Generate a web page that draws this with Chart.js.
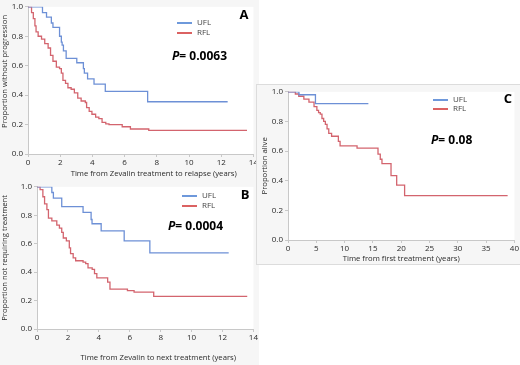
<!DOCTYPE html>
<html>
<head>
<meta charset="utf-8">
<script src="https://cdn.jsdelivr.net/npm/chart.js@4"></script>
<style>
  body { margin: 0; background: #fff; width: 520px; height: 365px; position: relative; overflow: hidden; }
  .panel { position: absolute; background: #f6f6f6; }
  #pa { left: 0; top: 0; width: 259px; height: 180px; }
  #pb { left: 0; top: 180px; width: 259px; height: 185px; }
  #pc { left: 256px; top: 84px; width: 263px; height: 179px; border: 1px solid #dcdcdc; }
</style>
</head>
<body>
<div class="panel" id="pa"><canvas id="ca" width="259" height="180"></canvas></div>
<div class="panel" id="pb"><canvas id="cb" width="259" height="185"></canvas></div>
<div class="panel" id="pc"><canvas id="cc" width="263" height="179"></canvas></div>
<script>
// Panel A: time to relapse
const aUflTime = [0, 0.8, 0.9, 1.15, 1.45, 1.55, 1.96, 2.07, 2.12, 2.2, 2.37, 3.03, 3.44, 3.5, 3.7, 4.1, 4.8, 7.43, 12.4];
const aUflSurv = [1.0, 1.0, 0.96, 0.93, 0.89, 0.86, 0.80, 0.76, 0.74, 0.70, 0.65, 0.62, 0.58, 0.55, 0.51, 0.475, 0.425, 0.355, 0.355];
const aRflTime = [0, 0.22, 0.33, 0.43, 0.5, 0.63, 0.84, 1.04, 1.25, 1.4, 1.55, 1.76, 1.96, 2.07, 2.17, 2.33, 2.48, 2.68, 2.88, 3.09, 3.3, 3.56, 3.64, 3.8, 3.97, 4.2, 4.4, 4.6, 4.83, 5.03, 5.85, 6.36, 7.5, 13.6];
const aRflSurv = [1.0, 0.96, 0.92, 0.87, 0.83, 0.80, 0.78, 0.75, 0.72, 0.67, 0.63, 0.59, 0.58, 0.55, 0.50, 0.48, 0.45, 0.44, 0.415, 0.38, 0.36, 0.35, 0.315, 0.29, 0.27, 0.25, 0.24, 0.215, 0.205, 0.20, 0.185, 0.17, 0.16, 0.16];

// Panel B: time to next treatment
const bUflTime = [0, 0.9, 0.96, 1.06, 1.6, 2.98, 3.5, 3.56, 4.15, 5.64, 7.3, 12.4];
const bUflSurv = [1.0, 1.0, 0.96, 0.92, 0.86, 0.82, 0.77, 0.74, 0.69, 0.62, 0.535, 0.535];
const bRflTime = [0, 0.2, 0.38, 0.49, 0.64, 0.74, 0.96, 1.28, 1.45, 1.6, 1.7, 1.9, 2.09, 2.17, 2.34, 2.5, 2.98, 3.15, 3.3, 3.57, 3.72, 3.87, 4.57, 4.72, 5.85, 6.28, 7.55, 13.6];
const bRflSurv = [1.0, 0.98, 0.93, 0.88, 0.84, 0.78, 0.76, 0.73, 0.71, 0.68, 0.64, 0.62, 0.57, 0.53, 0.50, 0.48, 0.47, 0.46, 0.43, 0.42, 0.39, 0.36, 0.33, 0.28, 0.27, 0.26, 0.23, 0.23];

// Panel C: overall survival
const cUflTime = [0, 1.93, 4.85, 14.2];
const cUflSurv = [1.0, 0.98, 0.92, 0.92];
const cRflTime = [0, 0.76, 1.3, 1.9, 2.8, 3.7, 4.6, 5.1, 5.4, 5.7, 6.0, 6.3, 6.6, 6.9, 7.2, 7.7, 8.9, 9.2, 12.2, 15.9, 16.3, 16.6, 18.2, 19.2, 20.6, 38.8];
const cRflSurv = [1.0, 1.0, 0.985, 0.97, 0.95, 0.93, 0.90, 0.875, 0.86, 0.85, 0.82, 0.80, 0.78, 0.75, 0.72, 0.70, 0.665, 0.635, 0.62, 0.58, 0.545, 0.515, 0.435, 0.37, 0.30, 0.30];

const groups = ['UFL', 'RFL'];
const yTicks = [0, 0.2, 0.4, 0.6, 0.8, 1.0];

const BLUE = '#6d90d6';
const RED = '#d3646e';
const FONT = "'Open Sans', sans-serif";
const TEXT = '#2a2a2a';

function pts(t, s) { return t.map((x, i) => ({ x: x, y: s[i] })); }

// white plot area, axis titles, legend, panel letter and p-value
const notes = {
  id: 'notes',
  beforeDraw(chart) {
    const a = chart.chartArea, ctx = chart.ctx;
    ctx.save();
    ctx.fillStyle = '#fff';
    ctx.fillRect(a.left, a.top, a.right - a.left, a.bottom - a.top);
    ctx.restore();
  },
  afterDraw(chart, args, o) {
    const ctx = chart.ctx, a = chart.chartArea;
    ctx.save();
    ctx.textBaseline = 'middle';
    ctx.fillStyle = TEXT;
    ctx.font = '7.7px ' + FONT;
    ctx.textAlign = 'center';
    ctx.fillText(o.xt, (a.left + a.right) / 2 + o.xtShift, o.xtY);
    ctx.save();
    ctx.translate(o.ytX, (a.top + a.bottom) / 2 + o.ytShift);
    ctx.rotate(-Math.PI / 2);
    ctx.fillText(o.yt, 0, 0);
    ctx.restore();
    ctx.textAlign = 'left';
    ['#4a7fd2', '#d23a3a'].forEach((c, i) => {
      const y = o.ly + i * o.gap;
      ctx.strokeStyle = c;
      ctx.lineWidth = 1.6;
      ctx.beginPath();
      ctx.moveTo(o.lx, y);
      ctx.lineTo(o.lx + 15, y);
      ctx.stroke();
      ctx.fillStyle = '#444';
      ctx.font = '8px ' + FONT;
      ctx.fillText(groups[i], o.lx + 20, y);
    });
    ctx.fillStyle = '#000';
    ctx.font = 'bold 13px ' + FONT;
    ctx.textAlign = 'center';
    ctx.fillText(o.letter, o.cx, o.cy);
    ctx.textAlign = 'left';
    ctx.font = 'italic bold 12px ' + FONT;
    ctx.fillText('P', o.px, o.py);
    const w = ctx.measureText('P').width;
    ctx.font = 'bold 12px ' + FONT;
    ctx.fillText('= ' + o.p, o.px + w, o.py);
    ctx.restore();
  }
};

function makeChart(id, d, xMax, xStep, yw, xh, pad, note) {
  return new Chart(document.getElementById(id), {
    type: 'line',
    data: {
      datasets: [
        { label: groups[0], data: pts(d[0], d[1]), borderColor: BLUE },
        { label: groups[1], data: pts(d[2], d[3]), borderColor: RED }
      ]
    },
    options: {
      responsive: false,
      animation: false,
      layout: { padding: pad },
      elements: {
        line: { stepped: 'before', borderWidth: 1.3, fill: false },
        point: { radius: 0 }
      },
      plugins: { legend: { display: false }, tooltip: { enabled: false }, notes: note },
      scales: {
        x: {
          type: 'linear', min: 0, max: xMax,
          afterFit(s) { s.height = xh; },
          border: { color: '#c8c8c8' },
          grid: { display: true, drawOnChartArea: false, tickLength: 3, color: '#c8c8c8' },
          ticks: { stepSize: xStep, font: { size: 8, family: FONT }, color: TEXT, padding: 1, maxRotation: 0 }
        },
        y: {
          min: 0, max: 1,
          afterFit(s) { s.width = yw; },
          afterBuildTicks(s) { s.ticks = yTicks.map(v => ({ value: v })); },
          border: { color: '#c8c8c8' },
          grid: { display: true, drawOnChartArea: false, tickLength: 3, color: '#c8c8c8' },
          ticks: { font: { size: 8, family: FONT }, color: TEXT, padding: 2, callback: v => v.toFixed(1) }
        }
      }
    },
    plugins: [notes]
  });
}

makeChart('ca', [aUflTime, aUflSurv, aRflTime, aRflSurv], 14, 2,
  28, 26, { top: 4, right: 3, left: 0, bottom: 0 },
  { xt: 'Time from Zevalin treatment to relapse (years)', xtShift: 13, xtY: 174,
    yt: 'Proportion without progression', ytX: 5, ytShift: -9,
    lx: 177, ly: 23, gap: 10, letter: 'A', cx: 244, cy: 15, px: 172, py: 57, p: '0.0063' });

makeChart('cb', [bUflTime, bUflSurv, bRflTime, bRflSurv], 14, 2,
  37, 36, { top: 5, right: 3, left: 0, bottom: 0 },
  { xt: 'Time from Zevalin to next treatment (years)', xtShift: 13, xtY: 178,
    yt: 'Proportion not requiring treatment', ytX: 5, ytShift: 0,
    lx: 182, ly: 16, gap: 10, letter: 'B', cx: 245, cy: 15, px: 168, py: 47, p: '0.0004' });

makeChart('cc', [cUflTime, cUflSurv, cRflTime, cRflSurv], 40, 5,
  31, 24, { top: 4, right: 4, left: 0, bottom: 0 },
  { xt: 'Time from first treatment (years)', xtShift: 0, xtY: 174,
    yt: 'Proportion alive', ytX: 8, ytShift: 0,
    lx: 176, ly: 15, gap: 9, letter: 'C', cx: 251, cy: 14, px: 174, py: 56, p: '0.08' });
</script>
</body>
</html>
